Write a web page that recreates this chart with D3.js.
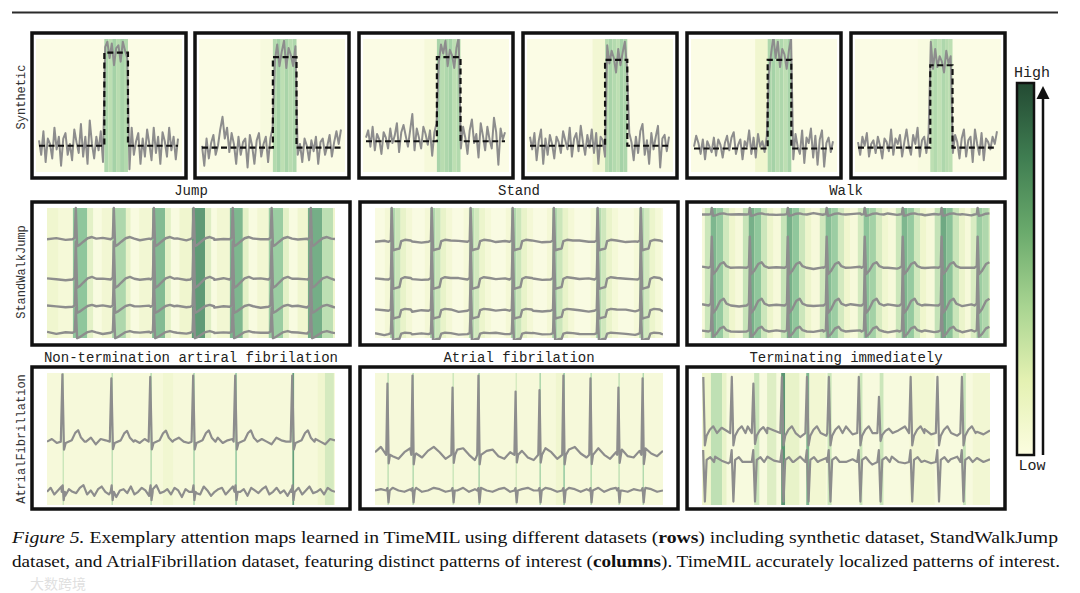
<!DOCTYPE html>
<html><head><meta charset="utf-8">
<script src="https://cdn.jsdelivr.net/npm/d3@7"></script>
<style>body{margin:0;background:#fff}svg{display:block}</style>
</head><body>
<svg id="c" width="1080" height="593"></svg>
<script>
// ---------------- DATA ----------------
const rowLabels = ["Synthetic", "StandWalkJump", "AtrialFibrillation"];
const swjTitles = ["Jump", "Stand", "Walk"];
const afTitles = ["Non-termination artiral fibrilation", "Atrial fibrilation", "Terminating immediately"];
const colorbarLabels = ["High", "Low"];
const captionLine1 = [["Figure 5.", "italic", "normal"], [" Exemplary attention maps learned in TimeMIL using different datasets (", "normal", "normal"], ["rows", "normal", "bold"], [") including synthetic dataset, StandWalkJump", "normal", "normal"]];
const captionLine2 = [["dataset, and AtrialFibrillation dataset, featuring distinct patterns of interest (", "normal", "normal"], ["columns", "normal", "bold"], ["). TimeMIL accurately localized patterns of interest.", "normal", "normal"]];
const watermark = "大数跨境";

// attention colour map (value 0..1)
const attnDomain = [0, 0.15, 0.35, 0.55, 0.75, 1];
const attnColors = ["#fdfde9", "#eff6cd", "#bfe0b4", "#8fc69c", "#5f9a76", "#3d7556"];
const colorbarStops = ["#fcfde0", "#e4f1b2", "#a8d491", "#6aaa6c", "#3f7d51", "#234a33"]; // bottom -> top

// Synthetic row: step start / end (time 0..100), baseline & high level, noise
const synStepStart = [47, 51, 51, 54, 53, 52];
const synStepEnd = [64, 68, 68, 70, 70, 68];
const synBase = [0, -0.02, 0.05, 0, -0.03, -0.02];
const synHigh = [1.03, 0.98, 0.98, 0.95, 0.95, 0.89];
const synNoise1 = [0.06,-0.1,0.16,-0.18,0.08,0.02,-0.14,0.2,-0.04,0.1,-0.22,0.08,0.14,-0.1,0.02,-0.16,0.18,0.04,-0.08,0.24,-0.12,0.1,-0.2,0.28,0.02,-0.14,0.1,-0.05,0.16,-0.18,0.06,0.12,-0.06,0.1,-0.14,0.05,0.08,-0.1,0.12,0.02,-0.06,-0.26,0.2,-0.1,0.05,0.14,-0.2,0.08,-0.12,0.18,0.02,-0.16,0.2,-0.08,0.1,-0.2,0.15,0.05,-0.12,0.2,-0.05,0.1,-0.15,0.08];
const synNoise2 = [0.02,-0.2,0.1,-0.12,0.05,0.14,-0.08,0.02,0.2,0.34,0.1,0.22,-0.05,0.16,0.04,-0.18,0.12,-0.08,0.06,0.1,-0.22,0.14,0.02,-0.18,0.08,0.16,-0.1,0.04,0.12,-0.16,0.1,0.22,-0.04,0.14,-0.1,0.06,0.18,-0.12,0.1,0.02,-0.1,0.12,-0.08,0.04,-0.16,0.1,0.02,-0.14,0.08,-0.04,0.12,-0.18,0.06,0.1,-0.08,0.02,0.14,-0.1,0.06,0.18,0.04,0.2];
const synNoise3 = [0.04,0.12,-0.06,0.16,-0.1,0.08,0.02,-0.14,0.1,0.04,-0.08,0.14,-0.02,0.06,0.2,-0.12,0.1,0.18,0.06,-0.06,0.12,0.3,-0.1,0.14,0.04,-0.08,0.16,0.08,-0.04,0.12,-0.16,0.1,0.2,-0.06,0.14,0.04,0.18,-0.1,0.08,0.02,-0.12,0.1,0.22,-0.08,0.16,0.04,-0.14,0.12,0.24,-0.02,0.08,-0.18,0.2,0.06,-0.1,0.16,0.02,-0.08,0.26,0.1,-0.26,0.14,0.02,0.1];
const synNoise4 = [0.1,-0.04,0.14,-0.16,0.06,0.18,-0.2,0.08,-0.1,0.12,0.02,-0.14,0.1,0.04,-0.08,0.16,0.06,-0.04,0.2,-0.12,0.08,0.14,-0.06,0.22,0.04,-0.1,0.12,-0.02,0.18,-0.08,0.14,-0.2,0.1,0.06,-0.12,0.16,-0.04,0.1,0.02,-0.14,0.12,-0.06,0.08,0.2,-0.1,0.14,0.04,-0.16,0.1,-0.08,0.16,0.24,-0.1,0.06,-0.2,0.14,-0.04,0.1,0.22,-0.24,0.08,0.12,-0.06,0.1];
const synNoise5 = [0.02,0.14,0.06,-0.06,0.1,-0.12,0.08,0.02,-0.04,0.12,-0.08,0.1,0.04,-0.1,0.06,0.14,-0.02,0.12,0.18,-0.06,0.04,0.1,-0.12,0.08,0.02,0.2,-0.06,0.12,-0.1,0.16,0.02,0.08,-0.04,0.14,-0.14,0.08,0.26,0.02,0.2,-0.08,0.12,0.06,-0.1,0.1,0.24,-0.12,0.16,0.02,-0.06,0.2,-0.16,0.12,0.06,0.22,-0.1,0.14,-0.18,0.1,0.2,-0.2,0.06,0.12,-0.04,0.08];
const synNoise6 = [0.06,-0.08,0.12,0.02,0.16,-0.1,0.04,0.08,-0.06,0.12,0.02,-0.12,0.1,0.06,-0.04,0.2,-0.08,0.1,0.04,0.14,-0.1,0.06,0.2,0.02,-0.08,0.14,0.04,0.22,-0.1,0.08,0.12,-0.06,0.16,0.26,-0.04,0.18,-0.02,0.1,0.04,-0.08,0.16,0.02,0.1,-0.06,0.14,0.06,-0.12,0.1,0.2,-0.1,0.08,0.12,-0.16,0.2,0.04,-0.08,0.16,-0.14,0.1,0.06,-0.02,0.12,0.04,0.18];
const synBand1 = [0.42,0.36,0.46,0.38,0.44,0.40];
const synBand2 = [0.40,0.46,0.36,0.44,0.38,0.42];
const synBand3 = [0.44,0.38,0.42,0.46,0.36,0.40];
const synBand4 = [0.38,0.44,0.40,0.36,0.46,0.42];
const synBand5 = [0.42,0.46,0.38,0.42,0.36,0.44];
const synBand6 = [0.36,0.40,0.34,0.42,0.38,0.36];
const synPreAttn = [0.02, 0.06, 0.08, 0.12, 0.14, 0.05];
const synBgAttn = 0.02;

// StandWalkJump row
const jumpBeats = [10.1, 23.3, 37.2, 51.0, 64.6, 78.1, 91.7];
const standBeats = [5.9, 19.8, 33.3, 47.9, 62.2, 77.4, 92.4];
const walkBeats = [3.5, 16.7, 29.9, 43.4, 56.6, 69.8, 83.3, 95.8];
const jumpBase = [76, 45, 24, 4];
const jumpSpike = [24, 29, 21, 19];
const standBase = [74, 45, 21, 3];
const standSpike = [26, 29, 24, 18];
const walkBase = [95, 54, 25, 5];
const walkSpike = [5, 24, 29, 20];
const jumpBeatShape = [[-1.2,0],[-0.45,0.05],[-0.1,1],[0.35,-0.22],[1.2,-0.18],[2.5,-0.08],[4,0.03],[5.5,0.07],[7,0.02]];
const standBeatShape = [[-1.2,0],[-0.4,0.04],[-0.1,1],[0.35,-0.25],[1.5,-0.22],[2.6,-0.2],[3.2,0.02],[4.5,0.06],[6.5,0.04]];
const walkBeatShape = [[-1.2,0],[-0.4,0.05],[-0.1,1],[0.35,-0.2],[1.4,-0.1],[2.8,0.12],[4,0.18],[5,0.05],[6.5,0]];
const swjWobble = [0,0.8,-0.5,0.9,0.2,-0.6,1.0,0.3,-0.3,0.7,-0.8,0.4,1.1,-0.2,0.6,-0.9,0.3,0.9,-0.4,0.1,0.8,-0.3,1.0,0,-0.6,0.4,0.9,-0.2,0.3,-0.7,0.6,0.1];
const jumpAttn = [[0,4,0.14],[4,9,0.09],[9,14,0.55],[14,16,0.2],[19,22.6,0.12],[22.6,27.4,0.42],[27.4,29,0.18],[32,36.5,0.12],[36.5,41,0.6],[41,43,0.2],[46,50.3,0.14],[50.3,54.9,0.75],[54.9,57,0.22],[59,63.5,0.12],[63.5,68,0.62],[68,70,0.2],[73,77,0.12],[77,82,0.5],[82,84,0.2],[87,90.6,0.14],[90.6,95.5,0.66],[95.5,99.3,0.36],[99.3,100,0.15]];
const jumpBgAttn = 0.05;
const standStripe = [[-2.5,-0.7,0.1],[-0.7,1.2,0.42],[1.2,3,0.3],[3,5,0.18],[5,7,0.1]];
const standBeatAttn = [1, 1, 0.9, 1, 1, 0.95, 0.9];
const standBgAttn = 0.04;
const walkStripe = [[-2.5,-0.5,0.3],[-0.5,1.5,0.62],[1.5,3.8,0.52],[3.8,6,0.28],[6,8,0.15]];
const walkBeatAttn = [1, 1.05, 1.05, 0.95, 0.9, 1, 1.1, 0.8];
const walkBgAttn = 0.08;

// AtrialFibrillation row
const afBeatsA = [5.6, 22.6, 36.1, 51.0, 65.6, 85.4];
const afTopsA = [99, 96, 97, 98, 98, 98];
const afBaseA = [48, 10];
const afBeatsB = [4.5, 13.2, 27.1, 36.1, 49.0, 57.3, 65.6, 75.0, 84.7, 93.1];
const afTopsB = [92, 98, 89, 98, 86, 87, 98, 96, 89, 96];
const afBaseB = [38, 11];
const afBeatsC = [0.7, 10.6, 18.1, 28.0, 36.7, 44.3, 54.7, 61.7, 72.7, 82.0, 90.5];
const afTopsC = [97, 97, 92, 97, 97, 97, 97, 82, 97, 97, 97];
const afBaseC = [54.5, 32.6];
const afA1Shape = [[-0.8,0],[-0.25,1],[0.3,-0.12],[0.9,-0.02],[3,0.02],[4.2,0.13],[5.2,0.17],[6.2,0.06],[7.5,0]];
const afA2Shape = [[-0.5,0],[-0.15,0.7],[0.2,-0.9],[0.6,0]];
const afB1Shape = [[-0.6,0],[-0.18,1],[0.25,-0.12],[0.7,0]];
const afB2Shape = [[-0.6,0],[-0.2,0.2],[0.2,-1],[0.6,0]];
const afC1Shape = [[-0.8,0],[-0.25,1],[0.3,-0.22],[0.9,-0.05],[2,0.06],[3.2,0.12],[4.5,0]];
const afC2Shape = [[-0.8,0],[-0.3,0.3],[0.3,-1],[0.9,0.05],[2.2,0.12],[3.5,0]];
const afSpike2 = [7, 9, 30];
const afWobA1 = [0,2,-1,3,-2,1,2,-1,0,3,-2,2,1,-1,3,0,-2,2,1,-1,2,3,-1,0,2,-2,1,3,0,-1,2,1,-2,2,0,3,-1,1,2,-2,0,3,1,-1,2,0,-2,3,1,0,2,-1,1,3,-1,2,0,-2,2,1];
const afWobA2 = [0,3,-2,1,4,-3,2,0,-1,3,5,-2,1,-3,2,4,0,-2,3,-4,1,2,-1,4,-2,0,3,1,-3,2,5,-1,0,2,-2,3,1,-4,2,0,3,-1,-2,4,1,-3,0,2,3,-2,1,4,-1,0,2,-3,3,1,-1,2,4,-2,0,3,-1,1,-3,2,0,3,-2,1,4,-1,0,2,-2,3,1,0];
const afWobB1 = [2,6,4,-1,-3,2,5,1,-2,3,6,2,-3,-1,4,5,0,-4,-2,3,4,-1,-3,2,6,3,-2,-4,1,5,2,-3,0,4,6,1,-2,3,5,0,-3,2,4,-1,-2,3,5,1,-1,3];
const afWobB2 = [0,1,-1,2,0,-1,1,2,-1,0,2,1,-1,1,0,2,-1,1,2,0,-1,1,2,-1,0,1,2,0,-1,2,1,-1,0,2,1,-1,1,0,2,-1,1,2,0,-1,1,0,2,1,-1,0];
const afWobC1 = [0,3,-1,4,1,-2,3,5,0,-2,4,2,-1,3,0,-3,2,4,1,-2,3,0,5,-1,2,-2,3,4,0,-1,2,5,-2,1,3,-1,4,0,2,-2,3,5,1,-1,2];
const afWobC2 = [0,2,4,1,-1,3,5,0,-2,2,4,1,-1,3,0,4,2,-1,1,3,5,-1,0,2,4,1,-2,3,1,4,0,-1,2,5,1,-1,3,0,2,4,-1,1,3,0,2];
const afAttnA = [[5.4,5.9,0.3],[22.4,22.9,0.35],[35.9,36.4,0.4],[40.3,43.8,0.13],[50.8,51.3,0.45],[65.4,65.9,0.55],[85.2,85.8,0.72],[94,96.5,0.14],[96.5,99.6,0.26]];
const afAttnB = [[4.3,4.8,0.35],[13.0,13.5,0.4],[26.9,27.4,0.3],[35.9,36.4,0.45],[48.8,49.3,0.25],[57.1,57.6,0.45],[62.8,65.4,0.14],[65.4,65.9,0.55],[74.8,75.3,0.4],[84.5,85.0,0.35],[92.9,93.4,0.4]];
const afAttnC = [[0,3.1,0.15],[3.1,7.0,0.35],[7.0,8.5,0.18],[18.1,19.9,0.3],[22.6,25.8,0.22],[27.5,28.9,0.78],[28.9,33.8,0.18],[36.2,37.3,0.62],[37.3,43,0.12],[43.6,45,0.3],[54.7,55.7,0.3],[61.7,63,0.3],[72.1,80.8,0.12],[90.6,91.6,0.32],[94,100,0.12]];
const afBgAttn = [0.08, 0.08, 0.06];

// ---------------- DRAW ----------------
const svg = d3.select("#c");
const mono = "'Liberation Mono','DejaVu Sans Mono',monospace";
const color = d3.scaleLinear().domain(attnDomain).range(attnColors).clamp(true);
const gray = "#8d8d8d";
const defs = svg.append("defs");
let clipId = 0;

svg.append("line").attr("x1", 12).attr("x2", 1058).attr("y1", 12.5).attr("y2", 12.5)
  .attr("stroke", "#2b2b2b").attr("stroke-width", 2);

function makeClip(x, y, w, h) {
  const id = "clip" + (clipId++);
  defs.append("clipPath").attr("id", id).append("rect").attr("x", x).attr("y", y).attr("width", w).attr("height", h);
  return "url(#" + id + ")";
}

function drawAttention(g, xs, top, h, bg, intervals, x0, x1) {
  g.append("rect").attr("x", x0).attr("y", top).attr("width", x1 - x0).attr("height", h).attr("fill", color(bg));
  g.selectAll("rect.att").data(intervals).join("rect").attr("class", "att")
    .attr("x", d => xs(d[0])).attr("y", top)
    .attr("width", d => Math.max(0.8, xs(d[1]) - xs(d[0]))).attr("height", h)
    .attr("fill", d => color(d[2]));
}

function buildSeries(wob, beats, shape, base, heights) {
  const n = wob.length;
  const lo = shape[0][0], hi = shape[shape.length - 1][0];
  let pts = wob.map((v, i) => [i * 100 / (n - 1), base + v])
    .filter(p => !beats.some(b => p[0] >= b + lo && p[0] <= b + hi));
  beats.forEach((b, k) => {
    const H = Array.isArray(heights) ? heights[k] : heights;
    shape.forEach(s => pts.push([b + s[0], base + s[1] * H]));
  });
  pts = pts.filter(p => p[0] >= 0 && p[0] <= 100).sort((a, b) => a[0] - b[0]);
  return pts;
}

function box(x, y, w, h) {
  svg.append("rect").attr("x", x).attr("y", y).attr("width", w).attr("height", h)
    .attr("fill", "none").attr("stroke", "#111").attr("stroke-width", 3.5);
}

// ---- Row 1: Synthetic ----
const synNoise = [synNoise1, synNoise2, synNoise3, synNoise4, synNoise5, synNoise6];
const synBands = [synBand1, synBand2, synBand3, synBand4, synBand5, synBand6];
const synBoxX = [32, 195, 359, 523, 687, 851];
synBoxX.forEach((bx, i) => {
  const by = 33, bw = 154, bh = 145;
  const ix0 = bx + 4, ix1 = bx + bw - 4, iy0 = by + 6, iy1 = by + bh - 6;
  const xs = d3.scaleLinear().domain([0, 100]).range([bx + 7, bx + bw - 8]);
  const ys = d3.scaleLinear().domain([-0.29, 1.18]).range([by + bh - 6, by + 6]);
  const g = svg.append("g").attr("clip-path", makeClip(ix0, iy0, ix1 - ix0, iy1 - iy0));
  const s = synStepStart[i], e = synStepEnd[i];
  const band = synBands[i];
  const intervals = [[s - 9, s, synPreAttn[i]]].concat(band.map((v, k) => [s + (e - s) * k / band.length, s + (e - s) * (k + 1) / band.length, v]));
  drawAttention(g, xs, iy0, iy1 - iy0, synBgAttn, intervals, ix0, ix1);
  const noise = synNoise[i];
  const sig = noise.map((v, k) => {
    const t = k * 100 / (noise.length - 1);
    return [t, (t >= s && t < e ? synHigh[i] : synBase[i]) + v];
  });
  g.append("path").attr("d", d3.line().x(d => xs(d[0])).y(d => ys(d[1]))(sig))
    .attr("fill", "none").attr("stroke", gray).attr("stroke-width", 2).attr("stroke-linejoin", "round");
  const stepPts = [[0, synBase[i]], [s, synBase[i]], [s, synHigh[i]], [e, synHigh[i]], [e, synBase[i]], [100, synBase[i]]];
  g.append("path").attr("d", d3.line().x(d => xs(d[0])).y(d => ys(d[1]))(stepPts))
    .attr("fill", "none").attr("stroke", "#111").attr("stroke-width", 2.2).attr("stroke-dasharray", "6,3.5");
  box(bx, by, bw, bh);
});

// ---- Row 2: StandWalkJump ----
const wideX = [32, 360, 687];
function stripesFromBeats(beats, stripe, scale) {
  const out = [];
  beats.forEach((b, k) => stripe.forEach(s => out.push([b + s[0], b + s[1], s[2] * scale[k]])));
  return out;
}
const swjCfg = [
  { beats: jumpBeats, base: jumpBase, spike: jumpSpike, shape: jumpBeatShape, attn: jumpAttn, bg: jumpBgAttn },
  { beats: standBeats, base: standBase, spike: standSpike, shape: standBeatShape, attn: stripesFromBeats(standBeats, standStripe, standBeatAttn), bg: standBgAttn },
  { beats: walkBeats, base: walkBase, spike: walkSpike, shape: walkBeatShape, attn: stripesFromBeats(walkBeats, walkStripe, walkBeatAttn), bg: walkBgAttn }
];
swjCfg.forEach((c, i) => {
  const bx = wideX[i], by = 202, bw = 318, bh = 143;
  const ix0 = bx + 15, ix1 = bx + bw - 15, iy0 = by + 6, iy1 = by + bh - 7;
  const xs = d3.scaleLinear().domain([0, 100]).range([ix0, ix1]);
  const ys = d3.scaleLinear().domain([0, 100]).range([iy1, iy0]);
  const g = svg.append("g").attr("clip-path", makeClip(ix0, iy0 - 2, ix1 - ix0, iy1 - iy0 + 4));
  drawAttention(g, xs, iy0, iy1 - iy0, c.bg, c.attn, ix0, ix1);
  c.base.forEach((b0, ch) => {
    const wob = swjWobble.slice(ch * 3).concat(swjWobble.slice(0, ch * 3));
    const pts = buildSeries(wob, c.beats, c.shape, b0, c.spike[ch]);
    g.append("path").attr("d", d3.line().x(d => xs(d[0])).y(d => ys(d[1]))(pts))
      .attr("fill", "none").attr("stroke", gray).attr("stroke-width", 2.4).attr("stroke-linejoin", "round");
  });
  box(bx, by, bw, bh);
  svg.append("text").attr("x", bx + bw / 2).attr("y", 195).attr("text-anchor", "middle")
    .attr("font-family", mono).attr("font-size", 14).attr("fill", "#222").text(swjTitles[i]);
});

// ---- Row 3: AtrialFibrillation ----
const afCfg = [
  { beats: afBeatsA, tops: afTopsA, base: afBaseA, s1: afA1Shape, s2: afA2Shape, w1: afWobA1, w2: afWobA2, attn: afAttnA },
  { beats: afBeatsB, tops: afTopsB, base: afBaseB, s1: afB1Shape, s2: afB2Shape, w1: afWobB1, w2: afWobB2, attn: afAttnB },
  { beats: afBeatsC, tops: afTopsC, base: afBaseC, s1: afC1Shape, s2: afC2Shape, w1: afWobC1, w2: afWobC2, attn: afAttnC }
];
afCfg.forEach((c, i) => {
  const bx = wideX[i], by = 367, bw = 318, bh = 142;
  const ix0 = bx + 15, ix1 = bx + bw - 15, iy0 = by + 6, iy1 = by + bh - 4;
  const xs = d3.scaleLinear().domain([0, 100]).range([ix0, ix1]);
  const ys = d3.scaleLinear().domain([0, 100]).range([iy1, iy0]);
  const g = svg.append("g").attr("clip-path", makeClip(ix0, iy0, ix1 - ix0, iy1 - iy0));
  drawAttention(g, xs, iy0, iy1 - iy0, afBgAttn[i], c.attn, ix0, ix1);
  const heights1 = c.tops.map(t => t - c.base[0]);
  const p1 = buildSeries(c.w1, c.beats, c.s1, c.base[0], heights1);
  const p2 = buildSeries(c.w2, c.beats, c.s2, c.base[1], afSpike2[i]);
  [p1, p2].forEach(pts => {
    g.append("path").attr("d", d3.line().x(d => xs(d[0])).y(d => ys(d[1]))(pts))
      .attr("fill", "none").attr("stroke", gray).attr("stroke-width", 2.2).attr("stroke-linejoin", "round");
  });
  box(bx, by, bw, bh);
  svg.append("text").attr("x", bx + bw / 2).attr("y", 362).attr("text-anchor", "middle")
    .attr("font-family", mono).attr("font-size", 14).attr("fill", "#222").text(afTitles[i]);
});

// ---- Row labels ----
const rowLabelY = [97, 272, 439];
rowLabels.forEach((t, i) => {
  svg.append("text").attr("transform", `translate(25,${rowLabelY[i]}) rotate(-90)`)
    .attr("text-anchor", "middle").attr("font-family", mono).attr("font-size", 12)
    .attr("fill", "#333").text(t);
});

// ---- Colorbar ----
const grad = defs.append("linearGradient").attr("id", "cb").attr("x1", 0).attr("x2", 0).attr("y1", 1).attr("y2", 0);
colorbarStops.forEach((c, k) => grad.append("stop").attr("offset", k / (colorbarStops.length - 1)).attr("stop-color", c));
svg.append("rect").attr("x", 1017).attr("y", 83).attr("width", 17).attr("height", 372)
  .attr("fill", "url(#cb)").attr("stroke", "#111").attr("stroke-width", 2.5);
svg.append("line").attr("x1", 1043).attr("x2", 1043).attr("y1", 455).attr("y2", 96)
  .attr("stroke", "#111").attr("stroke-width", 2.5);
svg.append("path").attr("d", "M1036.5,99 L1043,86 L1049.5,99 Z").attr("fill", "#111");
svg.append("text").attr("x", 1032).attr("y", 77).attr("text-anchor", "middle").attr("font-family", mono)
  .attr("font-size", 15).attr("fill", "#222").text(colorbarLabels[0]);
svg.append("text").attr("x", 1032).attr("y", 470).attr("text-anchor", "middle").attr("font-family", mono)
  .attr("font-size", 15).attr("fill", "#222").text(colorbarLabels[1]);

// ---- Caption ----
function captionLine(parts, y, x0, x1) {
  const t = svg.append("text").attr("x", x0).attr("y", y).attr("font-family", "'Liberation Serif','Times New Roman',serif")
    .attr("font-size", 17).attr("fill", "#111").attr("textLength", x1 - x0).attr("lengthAdjust", "spacingAndGlyphs");
  parts.forEach(p => t.append("tspan").attr("font-style", p[1]).attr("font-weight", p[2]).text(p[0]));
}
captionLine(captionLine1, 543, 12, 1058);
captionLine(captionLine2, 567, 12, 1060);

svg.append("text").attr("x", 30).attr("y", 589).attr("font-family", "'Noto Sans CJK SC',sans-serif")
  .attr("font-size", 14).attr("fill", "#bbb").attr("opacity", 0.45).text(watermark);
</script>
</body></html>
